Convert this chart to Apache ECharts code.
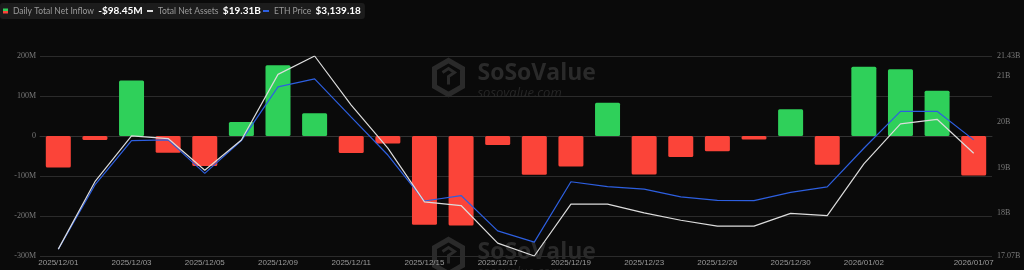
<!DOCTYPE html>
<html>
<head>
<meta charset="utf-8">
<script src="https://cdn.jsdelivr.net/npm/echarts@6/dist/echarts.min.js"></script>
<style>
html,body{margin:0;padding:0;background:#0a0a0a;}
#c{width:1024px;height:270px;}
</style>
</head>
<body>
<div id="c"></div>
<script>
const dates = ['2025/12/01','2025/12/02','2025/12/03','2025/12/04','2025/12/05','2025/12/08','2025/12/09','2025/12/10','2025/12/11','2025/12/12','2025/12/15','2025/12/16','2025/12/17','2025/12/18','2025/12/19','2025/12/22','2025/12/23','2025/12/24','2025/12/26','2025/12/29','2025/12/30','2025/12/31','2026/01/02','2026/01/05','2026/01/06','2026/01/07'];
const netInflow = [-79, -10, 139, -42, -75, 35, 177, 57, -42.5, -19, -222, -224, -22.5, -96.7, -76, 83, -96, -52.5, -38, -9, 66.7, -71.7, 173, 167, 113, -98.45];
const netAssets = [17.22, 18.69, 19.69, 19.63, 18.94, 19.60, 21.03, 21.43, 20.36, 19.42, 18.25, 18.17, 17.35, 17.07, 18.20, 18.20, 18.01, 17.85, 17.72, 17.72, 18.00, 17.95, 19.08, 19.95, 20.05, 19.31];
const ethPrice = [2799, 2999, 3137, 3139, 3035, 3137, 3304, 3329, 3210, 3092, 2949, 2966, 2856, 2821, 3009, 2994, 2986, 2962, 2951, 2950, 2976, 2993, 3113, 3228, 3228, 3139.18];
const leftTicks = [-300, 200, 100];      // min, max, interval (M)
const rightTickLabels = [17.07, 18, 19, 20, 21, 21.43];

const RED = '#fb4439', GREEN = '#2fd05a', WHITE = '#dcdcdc', BLUE = '#2d5fe0';
const chart = echarts.init(document.getElementById('c'));

const lastInflow = netInflow[netInflow.length - 1];
const lastAssets = netAssets[netAssets.length - 1];
const lastEth = ethPrice[ethPrice.length - 1];
const fmtInflow = (lastInflow < 0 ? '-' : '') + '$' + Math.abs(lastInflow).toFixed(2) + 'M';
const fmtAssets = '$' + lastAssets.toFixed(2) + 'B';
const fmtEth = '$' + lastEth.toLocaleString('en-US', {minimumFractionDigits: 2, maximumFractionDigits: 2});

const legendRich = {
  n: {color: '#9a9a9a', fontSize: 8.5, fontFamily: 'Lato'},
  v: {color: '#ffffff', fontSize: 10, fontWeight: 'bold', fontFamily: 'Lato', padding: [0, 0, 0, 1]}
};
function mkLegend(left, name, val, icon) {
  return {
    left: left, top: 3, orient: 'horizontal',
    backgroundColor: '#1c1c1c', borderRadius: 3, padding: [2, 4, 2, 3],
    itemWidth: icon.w, itemHeight: icon.h, itemGap: 0,
    icon: 'rect',
    data: [{name: name, itemStyle: icon.style}],
    formatter: () => '{n|' + name + '} {v|' + val + '}',
    textStyle: {rich: legendRich, padding: [0, 0, 0, 0]},
    selectedMode: false
  };
}
const splitGrad = new echarts.graphic.LinearGradient(0, 0, 0, 1, [
  {offset: 0, color: GREEN}, {offset: 0.5, color: GREEN},
  {offset: 0.5, color: RED}, {offset: 1, color: RED}
]);

function watermark(top) {
  return {
    type: 'group', left: 432, top: top, z: 0, silent: true,
    children: [
      {type: 'polygon', shape: {points: [[15, 0], [29, 8], [29, 26], [15, 34], [1, 26], [1, 8]]},
       style: {fill: 'none', stroke: '#2a2a2a', lineWidth: 5}},
      {type: 'polyline', shape: {points: [[9, 12], [15, 8], [21, 12], [15, 16], [15, 24]]},
       style: {fill: 'none', stroke: '#2a2a2a', lineWidth: 3}},
      {type: 'text', x: 44, y: 1, style: {text: 'SoSoValue', fill: '#2a2a2a', font: 'bold 23px "Open Sans"'}},
      {type: 'text', x: 44, y: 26, style: {text: 'sosovalue.com', fill: '#262626', font: 'italic 13px "Open Sans"'}}
    ]
  };
}

chart.setOption({
  backgroundColor: '#0a0a0a',
  animation: false,
  graphic: [watermark(58), watermark(237)],
  legend: [
    mkLegend(0, 'Daily Total Net Inflow', fmtInflow, {w: 5, h: 5, style: {color: splitGrad}}),
    mkLegend(144, 'Total Net Assets', fmtAssets, {w: 6, h: 2, style: {color: WHITE}}),
    mkLegend(260, 'ETH Price', fmtEth, {w: 6, h: 2, style: {color: BLUE}})
  ],
  grid: {left: 40, right: 32, top: 56, bottom: 14, containLabel: false},
  xAxis: {
    type: 'category', data: dates,
    axisTick: {show: false},
    axisLine: {show: true, lineStyle: {color: '#333333'}},
    axisLabel: {
      color: '#9a9a9a', fontSize: 8, fontFamily: 'Liberation Sans', margin: 3,
      interval: (i) => (i % 2 === 0 && i !== dates.length - 2) || i === dates.length - 1
    }
  },
  yAxis: [
    {
      type: 'value', min: leftTicks[0], max: leftTicks[1], interval: leftTicks[2],
      axisLine: {show: false}, axisTick: {show: false},
      splitLine: {lineStyle: {color: '#2b2b2b', width: 1}},
      axisLabel: {color: '#7a7a7a', fontSize: 8, fontFamily: 'Liberation Serif', margin: 4,
        formatter: v => v === 0 ? '0' : v + 'M'}
    },
    {
      type: 'value', min: Math.min(...netAssets), max: Math.max(...netAssets),
      position: 'right',
      axisLine: {show: false}, axisTick: {show: false}, splitLine: {show: false},
      axisLabel: {color: '#7a7a7a', fontSize: 8, fontFamily: 'Liberation Serif', margin: 5,
        customValues: rightTickLabels, showMinLabel: true, showMaxLabel: true,
        formatter: v => (+v.toFixed(2)) + 'B'}
    },
    {
      type: 'value', min: 2778, max: 3400, show: false,
      splitLine: {show: false}
    }
  ],
  series: [
    {
      name: 'Daily Total Net Inflow', type: 'bar', yAxisIndex: 0, barWidth: 25, z: 2,
      data: netInflow.map(v => ({value: v, itemStyle: {color: v >= 0 ? GREEN : RED, borderRadius: 1.5}}))
    },
    {
      name: 'Total Net Assets', type: 'line', yAxisIndex: 1, data: netAssets, z: 4,
      symbol: 'none', lineStyle: {color: WHITE, width: 1.2}, itemStyle: {color: WHITE}
    },
    {
      name: 'ETH Price', type: 'line', yAxisIndex: 2, data: ethPrice, z: 3,
      symbol: 'none', lineStyle: {color: BLUE, width: 1.2}, itemStyle: {color: BLUE}
    }
  ]
});
</script>
</body>
</html>
